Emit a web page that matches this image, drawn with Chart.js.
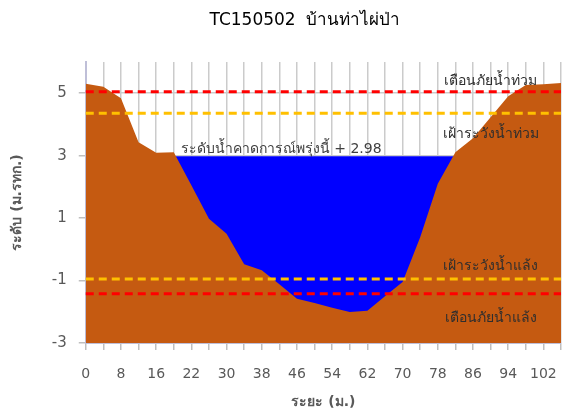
<!DOCTYPE html>
<html>
<head>
<meta charset="utf-8">
<script src="https://cdn.jsdelivr.net/npm/chart.js@4.4.1/dist/chart.umd.min.js"></script>
<style>
  html, body { margin: 0; padding: 0; background: #fff; }
  #wrap { width: 564px; height: 409px; }
</style>
</head>
<body>
<div id="wrap"><canvas id="c"></canvas></div>
<script>
// distance along the section (m)
const distances = [0, 4, 8, 12, 16, 19, 22, 26, 30, 34, 38, 42, 46, 50, 54, 58, 62, 66, 70, 74, 78, 82, 86, 90, 94, 98, 102, 105];

// ground level (m MSL)
const ground = [5.30, 5.21, 4.84, 3.43, 3.09, 3.11, 2.05, 0.98, 0.50, -0.48, -0.67, -1.12, -1.58, -1.72, -1.87, -2.01, -1.97, -1.50, -1.05, 0.39, 2.10, 3.11, 3.56, 4.23, 4.90, 5.26, 5.29, 5.33];

// forecast water level for tomorrow
const waterLevel = 2.98;

// threshold levels
const floodWarn = 5.05;
const floodWatch = 4.36;
const droughtWatch = -0.95;
const droughtWarn = -1.42;

const yTicks = [-3, -1, 1, 3, 5];

const FONT = "Tahoma, 'DejaVu Sans', 'Noto Sans', sans-serif";
const flat = v => distances.map(() => v);

// ------------------------------------------------
//  labels inside the plot + title
// ------------------------------------------------
const textPlugin = {
  id: "texts",
  afterDatasetsDraw(chart) {
    const g = chart.ctx;
    const x = chart.scales.x, y = chart.scales.y;
    const cx = x.getPixelForValue(23.0);

    g.save();
    g.font = "14px " + FONT;
    g.fillStyle = "#2e2e2e";
    g.textAlign = "center";
    g.textBaseline = "middle";
    g.fillText("เตือนภัยน้ำท่วม", cx, y.getPixelForValue(floodWarn) - 10);
    g.fillText("เฝ้าระวังน้ำท่วม", cx, y.getPixelForValue(floodWatch) + 21);
    g.fillText("เฝ้าระวังน้ำแล้ง", cx, y.getPixelForValue(droughtWatch) - 13);
    g.fillText("เตือนภัยน้ำแล้ง", cx, y.getPixelForValue(droughtWarn) + 25);

    g.textAlign = "left";
    g.fillStyle = "#404040";
    g.fillText("ระดับน้ำคาดการณ์พรุ่งนี้ + " + waterLevel.toFixed(2), x.getPixelForValue(5.4), y.getPixelForValue(waterLevel) - 7);

    g.font = "17px " + FONT;
    g.fillStyle = "#000";
    g.textAlign = "center";
    g.fillText("TC150502  บ้านท่าไผ่ป่า", 305, 21);
    g.restore();
  }
};

function dashed(data, color) {
  return {
    data: data,
    borderColor: color,
    borderWidth: 3,
    borderDash: [8, 5],
    pointRadius: 0,
    fill: false,
    order: 0
  };
}

new Chart(document.getElementById("c"), {
  type: "line",
  data: {
    labels: distances,
    datasets: [
      dashed(flat(floodWarn), "#ff0000"),
      dashed(flat(floodWatch), "#ffc000"),
      dashed(flat(droughtWatch), "#ffc000"),
      dashed(flat(droughtWarn), "#ff0000"),
      {
        data: ground,
        borderWidth: 0,
        backgroundColor: "#c55a11",
        pointRadius: 0,
        fill: "start",
        order: 1
      },
      {
        data: flat(waterLevel),
        borderWidth: 0,
        backgroundColor: "#0000ff",
        pointRadius: 0,
        fill: "start",
        order: 2
      }
    ]
  },
  options: {
    responsive: true,
    maintainAspectRatio: false,
    animation: false,
    layout: { padding: { top: 62, right: 0, left: 9, bottom: 0 } },
    plugins: {
      legend: { display: false },
      tooltip: { enabled: false },
      title: { display: false }
    },
    scales: {
      x: {
        type: "category",
        offset: false,
        grid: { color: "#cbcbcb", lineWidth: 1.5, tickLength: 7, tickColor: "#bfbfbf" },
        border: { color: "#bfbfd8", width: 2 },
        ticks: {
          autoSkip: false,
          maxRotation: 0,
          color: "#595959",
          padding: 3,
          font: { family: FONT, size: 14, lineHeight: 3.0 },
          callback: (v, i) => (i % 2 === 0 ? distances[i] : "")
        },
        title: {
          display: true,
          text: "ระยะ (ม.)",
          color: "#595959",
          padding: { top: -3, bottom: 0 },
          font: { family: FONT, size: 14, weight: "bold", lineHeight: 1 }
        }
      },
      y: {
        min: -3,
        max: 6,
        afterBuildTicks: s => { s.ticks = yTicks.map(v => ({ value: v })); },
        grid: { color: "#cbcbcb", lineWidth: 1.5, tickLength: 7, tickColor: "#bfbfbf" },
        border: { color: "#bfbfd8", width: 2 },
        ticks: {
          color: "#595959",
          padding: 12,
          font: { family: FONT, size: 15 }
        },
        title: {
          display: true,
          text: "ระดับ (ม.รทก.)",
          color: "#595959",
          padding: { top: 0, bottom: 14 },
          font: { family: FONT, size: 14, weight: "bold" }
        }
      }
    }
  },
  plugins: [textPlugin]
});
</script>
</body>
</html>
